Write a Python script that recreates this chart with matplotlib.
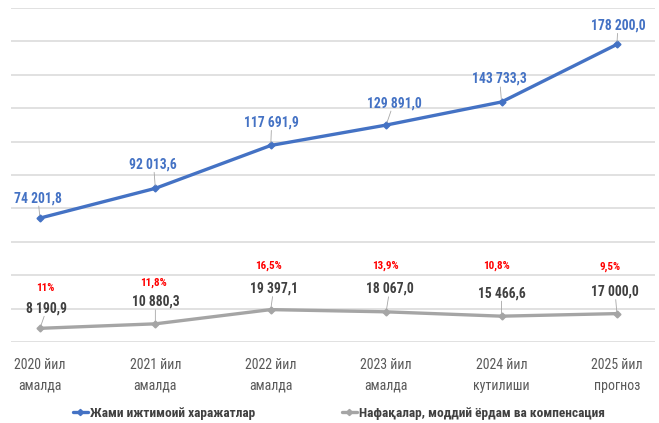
import matplotlib
matplotlib.use("Agg")
import matplotlib.pyplot as plt

# Data
categories = ["2020 йил\nамалда", "2021 йил\nамалда", "2022 йил\nамалда",
              "2023 йил\nамалда", "2024 йил\nкутилиши", "2025 йил\nпрогноз"]
total_social = [74201.8, 92013.6, 117691.9, 129891.0, 143733.3, 178200.0]
benefits = [8190.9, 10880.3, 19397.1, 18067.0, 15466.6, 17000.0]
shares = ["11%", "11,8%", "16,5%", "13,9%", "10,8%", "9,5%"]
series_names = ["Жами ижтимоий харажатлар", "Нафақалар, моддий ёрдам ва компенсация"]

def fmt(v):
    s = f"{v:,.1f}"
    return s.replace(",", " ").replace(".", ",")

plt.rcParams["font.family"] = ["Roboto Condensed", "DejaVu Sans"]

BLUE = "#4472C4"
GREY = "#A5A5A5"

fig = plt.figure(figsize=(6.59, 4.23), dpi=100)
ax = fig.add_axes([11 / 659, 1 - 342 / 423, 644 / 659, 334 / 423])

x = list(range(len(categories)))
ax.set_xlim(-0.251, 5.33)
ax.set_ylim(0, 200000)
ax.set_yticks(range(0, 200001, 20000))
ax.yaxis.grid(True, color="#D9D9D9", lw=1.1)
ax.set_axisbelow(True)
ax.tick_params(axis="y", left=False, labelleft=False)
ax.tick_params(axis="x", bottom=False, pad=8)
ax.set_xticks(x)
ax.set_xticklabels(categories, color="#595959", fontsize=10, linespacing=1.6)
for sp in ax.spines.values():
    sp.set_visible(False)

l1, = ax.plot(x, total_social, color=BLUE, lw=2.4, marker="D", ms=3.5,
              solid_capstyle="round", label=series_names[0])
l2, = ax.plot(x, benefits, color=GREY, lw=2.4, marker="D", ms=3.5,
              solid_capstyle="round", label=series_names[1])

# value labels with short leader lines (offsets in pixels)
blue_off = [(-2, 20), (-2, 24), (1, 23), (8, 22), (-2, 23), (1, 19)]
grey_off = [(7, 20), (0, 22), (3, 21), (4, 23), (0, 23), (-2, 22)]
red_off = [(5, 40), (-2, 41), (-2, 44), (-1, 46), (-5, 50), (-7, 47)]

def label(xi, yi, text, off, color, size, leader=True, weight="bold"):
    ax.annotate(text, (xi, yi), xytext=off, textcoords="offset pixels",
                ha="center", va="center", color=color, fontsize=size,
                fontweight=weight, annotation_clip=False)
    if leader:
        ax.annotate("", (xi, yi), xytext=(off[0] * 0.6, off[1] - 8),
                    textcoords="offset pixels",
                    arrowprops=dict(arrowstyle="-", color="#A6A6A6", lw=0.6,
                                    shrinkA=0, shrinkB=2))

for i in x:
    label(i, total_social[i], fmt(total_social[i]), blue_off[i], BLUE, 9.8)
    label(i, benefits[i], fmt(benefits[i]), grey_off[i], "#404040", 9.8)
    label(i, benefits[i], shares[i], red_off[i], "#FF0000", 8, leader=False)

# legend entries placed separately below the chart
for line, x0 in ((l1, 73 / 659), (l2, 342 / 659)):
    leg = fig.legend(handles=[line], loc="center left",
                     bbox_to_anchor=(x0, 1 - 413 / 423), frameon=False,
                     fontsize=9.6, handlelength=1.1, handletextpad=0.15,
                     borderpad=0, borderaxespad=0, markerscale=0.9)
    for t in leg.get_texts():
        t.set_color("#404040")
        t.set_fontweight("bold")

fig.savefig("out.png", dpi=100)
